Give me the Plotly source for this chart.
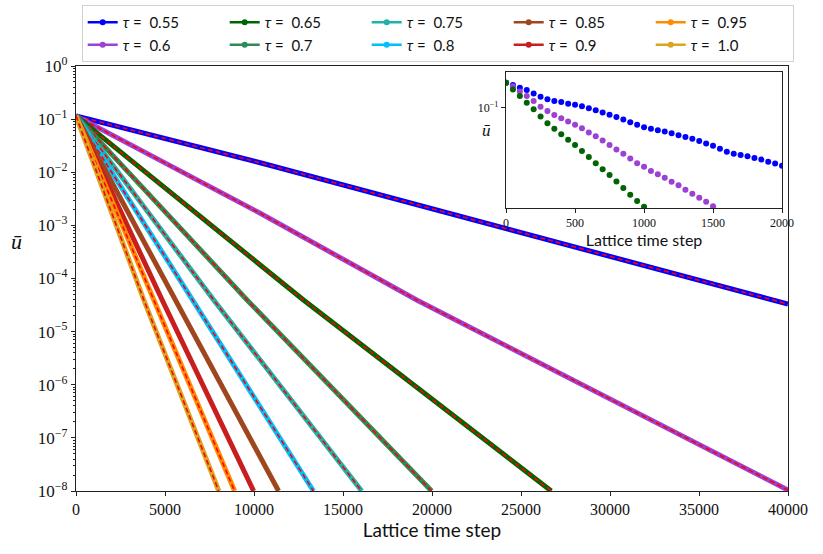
import plotly.graph_objects as go

# tau values and colours
taus = [0.55, 0.6, 0.65, 0.7, 0.75, 0.8, 0.85, 0.9, 0.95, 1.0]
colors = ["#0000ff", "#9d40d4", "#006400", "#2e8b57", "#20b2aa",
          "#00bfff", "#a0461e", "#c81e1e", "#ff8c00", "#daa520"]
# taus that show the red dashed analytic curve on top
dashed_taus = [0.55, 0.6, 0.65, 0.7, 0.75, 0.8, 0.95, 1.0]

# main panel: mean velocity vs lattice time step
t_055 = [0, 10350, 40000]
u_055 = [0.115, 1.51e-2, 3.3e-5]
t_060 = [0, 10350, 19140, 40000]
u_060 = [0.115, 1.69e-3, 3.94e-5, 1.04e-8]
t_065 = [0, 12780, 26700]
u_065 = [0.115, 3.94e-5, 1e-8]
t_070 = [0, 9610, 19980]
u_070 = [0.115, 3.94e-5, 1e-8]
t_075 = [0, 7735, 16050]
u_075 = [0.115, 3.94e-5, 1e-8]
t_080 = [0, 6525, 13340]
u_080 = [0.115, 3.94e-5, 1e-8]
t_085 = [0, 5590, 11380]
u_085 = [0.115, 3.94e-5, 1e-8]
t_090 = [0, 4840, 9980]
u_090 = [0.115, 3.94e-5, 1e-8]
t_095 = [0, 4370, 8910]
u_095 = [0.115, 3.94e-5, 1e-8]
t_100 = [0, 3810, 8020]
u_100 = [0.115, 3.94e-5, 1e-8]

main_t = [t_055, t_060, t_065, t_070, t_075, t_080, t_085, t_090, t_095, t_100]
main_u = [u_055, u_060, u_065, u_070, u_075, u_080, u_085, u_090, u_095, u_100]

y_ticks = [1e-8, 1e-7, 1e-6, 1e-5, 1e-4, 1e-3, 1e-2, 1e-1, 1]
y_ticklabels = ["10<sup>−8</sup>", "10<sup>−7</sup>", "10<sup>−6</sup>", "10<sup>−5</sup>",
                "10<sup>−4</sup>", "10<sup>−3</sup>", "10<sup>−2</sup>", "10<sup>−1</sup>",
                "10<sup>0</sup>"]

# inset: sampled every 50 steps
inset_t_055 = list(range(0, 2001, 50))
inset_u_055 = [0.1131, 0.1118, 0.1103, 0.1091, 0.1073, 0.1056, 0.1042, 0.1033,
               0.1028, 0.1020, 0.1015, 0.1007, 0.0997, 0.0987, 0.0976, 0.0966,
               0.0955, 0.0943, 0.0931, 0.0919, 0.0908, 0.0901, 0.0895, 0.0889,
               0.0882, 0.0873, 0.0865, 0.0858, 0.0848, 0.0838, 0.0829, 0.0817,
               0.0805, 0.0797, 0.0792, 0.0787, 0.0780, 0.0774, 0.0766, 0.0759,
               0.0751]
inset_t_060 = list(range(0, 1501, 50))
inset_u_060 = [0.1131, 0.1112, 0.1083, 0.1059, 0.1033, 0.1005, 0.0984, 0.0965,
               0.0949, 0.0934, 0.0919, 0.0903, 0.0885, 0.0868, 0.0850, 0.0832,
               0.0814, 0.0797, 0.0778, 0.0760, 0.0747, 0.0732, 0.0720, 0.0708,
               0.0694, 0.0682, 0.0667, 0.0654, 0.0641, 0.0629, 0.0615]
inset_t_065 = list(range(0, 1001, 50))
inset_u_065 = [0.1131, 0.1094, 0.1059, 0.1025, 0.0992, 0.0957, 0.0926, 0.0901,
               0.0877, 0.0854, 0.0832, 0.0808, 0.0784, 0.0760, 0.0738, 0.0717,
               0.0695, 0.0673, 0.0651, 0.0631, 0.0613]
inset_t = [inset_t_055, inset_t_060, inset_t_065]
inset_u = [inset_u_055, inset_u_060, inset_u_065]
inset_colors = ["#0000ff", "#9d40d4", "#006400"]

serif = "Liberation Serif"
sans = "Lato"

fig = go.Figure()

for tau, c, tt, uu in zip(taus, colors, main_t, main_u):
    fig.add_trace(go.Scatter(x=tt, y=uu, mode="lines", line=dict(color=c, width=5),
                             showlegend=False, hoverinfo="skip"))
    if tau in dashed_taus:
        fig.add_trace(go.Scatter(x=tt, y=uu, mode="lines",
                                 line=dict(color="#ff0000", width=1.6, dash="5px,3px"),
                                 showlegend=False, hoverinfo="skip"))

# legend entries (row-wise order so columns read 0.55/0.6, 0.65/0.7 ...)
order = [0, 2, 4, 6, 8, 1, 3, 5, 7, 9]
for rank, i in enumerate(order):
    fig.add_trace(go.Scatter(
        x=[None], y=[None], mode="lines+markers",
        line=dict(color=colors[i], width=2.5), marker=dict(color=colors[i], size=6),
        name="<i>τ</i> =  " + str(taus[i]), legendrank=rank + 1))

for c, tt, uu in zip(inset_colors, inset_t, inset_u):
    fig.add_trace(go.Scatter(x=tt, y=uu, mode="markers", xaxis="x2", yaxis="y2",
                             marker=dict(color=c, size=6), showlegend=False))

axis_common = dict(showline=True, linecolor="#222", linewidth=1.2, mirror=True,
                   ticks="outside", tickcolor="#222", showgrid=False, zeroline=False)

fig.update_layout(
    width=823, height=554,
    margin=dict(l=76, r=35, t=66, b=63, autoexpand=False),
    plot_bgcolor="white", paper_bgcolor="white",
    xaxis=dict(range=[0, 40000], tickvals=list(range(0, 40001, 5000)), tickformat="d",
               ticklen=4, tickfont=dict(family=serif, size=16, color="#111"),
               title=dict(text="Lattice time step", standoff=2,
                          font=dict(family=sans, size=19, color="#111")),
               **axis_common),
    yaxis=dict(type="log", range=[-8, 0], tickvals=y_ticks, ticktext=y_ticklabels,
               ticklen=4, tickfont=dict(family=serif, size=17, color="#111"),
               minor=dict(ticks="outside", ticklen=2, dtick="D1", tickcolor="#222"),
               **axis_common),
    xaxis2=dict(domain=[0.604, 0.9916], anchor="y2", range=[0, 2000],
                tickvals=[0, 500, 1000, 1500, 2000], tickformat="d", ticklen=4,
                tickfont=dict(family=serif, size=12, color="#111"),
                title=dict(text="Lattice time step", standoff=0,
                           font=dict(family=sans, size=16, color="#111")),
                **axis_common),
    yaxis2=dict(domain=[0.666, 0.986], anchor="x2", type="log",
                range=[-1.2149, -0.9234], tickvals=[0.1], ticktext=["10<sup>−1</sup>"],
                ticklen=4, tickfont=dict(family=serif, size=12, color="#111"),
                **axis_common),
    legend=dict(orientation="h", x=0.008, y=1.1435, xanchor="left", yanchor="top",
                entrywidth=97, itemwidth=30, font=dict(family=sans, size=15, color="#111"),
                bordercolor="#d0d0d0", borderwidth=1, bgcolor="white",
                tracegroupgap=0),
    annotations=[
        dict(text="<i>ū</i>", xref="paper", yref="paper", x=-0.084, y=0.586,
             xanchor="center", yanchor="middle", showarrow=False,
             font=dict(family=serif, size=22, color="#111")),
        dict(text="<i>ū</i>", xref="paper", yref="paper", x=0.577, y=0.849,
             xanchor="center", yanchor="middle", showarrow=False,
             font=dict(family=serif, size=17, color="#111")),
    ],
)

fig.write_html("out.html", config={"displayModeBar": False},
               post_script="document.body.style.margin='0';")
